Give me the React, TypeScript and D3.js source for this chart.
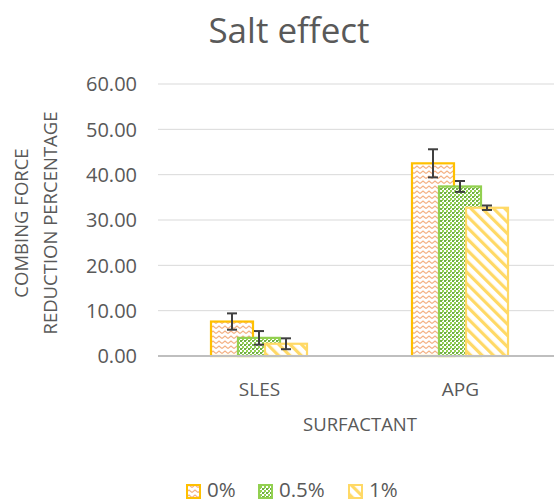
import React, { useEffect, useRef } from 'react';
import * as d3 from 'd3';

const categories = ['SLES', 'APG'];
const seriesNames = ['0%', '0.5%', '1%'];
const values0 = [7.6, 42.5];
const values05 = [4.0, 37.4];
const values1 = [2.7, 32.7];
const err0 = [1.8, 3.1];
const err05 = [1.5, 1.2];
const err1 = [1.2, 0.5];
const yTicks = [0, 10, 20, 30, 40, 50, 60];

const seriesValues = [values0, values05, values1];
const seriesErrors = [err0, err05, err1];
const strokes = ['#FFC000', '#92D050', '#FFD966'];
const patternIds = ['pat-zigzag', 'pat-dots', 'pat-diag'];

const FONT = '"Open Sans", sans-serif';
const TEXT = '#595959';

const App: React.FC = () => {
  const svgRef = useRef<SVGSVGElement>(null);

  useEffect(() => {
    if (!svgRef.current) return;
    const W = 554;
    const H = 502;

    const svg = d3.select(svgRef.current)
      .attr('width', W)
      .attr('height', H)
      .html('');

    // fill patterns (Excel-like)
    const defs = svg.append('defs');
    const zz = defs.append('pattern')
      .attr('id', 'pat-zigzag')
      .attr('patternUnits', 'userSpaceOnUse')
      .attr('width', 6).attr('height', 5);
    zz.append('rect').attr('width', 6).attr('height', 5).attr('fill', '#fff');
    zz.append('path')
      .attr('d', 'M0,3.5 L3,1 L6,3.5')
      .attr('fill', 'none')
      .attr('stroke', '#F4B183')
      .attr('stroke-width', 1.1);

    const dots = defs.append('pattern')
      .attr('id', 'pat-dots')
      .attr('patternUnits', 'userSpaceOnUse')
      .attr('width', 4).attr('height', 4);
    dots.append('rect').attr('width', 4).attr('height', 4).attr('fill', '#fff');
    dots.append('rect').attr('x', 0).attr('y', 0).attr('width', 2).attr('height', 2).attr('fill', '#70AD47');
    dots.append('rect').attr('x', 2).attr('y', 2).attr('width', 2).attr('height', 2).attr('fill', '#92D050');
    dots.append('rect').attr('x', 2).attr('y', 0).attr('width', 1).attr('height', 1).attr('fill', '#92D050');

    const diag = defs.append('pattern')
      .attr('id', 'pat-diag')
      .attr('patternUnits', 'userSpaceOnUse')
      .attr('width', 8).attr('height', 8)
      .attr('patternTransform', 'rotate(-45)');
    diag.append('rect').attr('width', 8).attr('height', 8).attr('fill', '#fff');
    diag.append('rect').attr('x', 0).attr('width', 3.2).attr('height', 8).attr('fill', '#FFD966');

    const x = d3.scaleBand<string>()
      .domain(categories)
      .range([158, 560])
      .padding(0);

    const barW = 42;
    // overlapping series bars inside each category band
    const xs = d3.scalePoint<string>()
      .domain(seriesNames)
      .range([53, 107]);

    const y = d3.scaleLinear()
      .domain([0, 60])
      .range([356, 84]);

    // title
    svg.append('text')
      .attr('x', 289)
      .attr('y', 43)
      .attr('text-anchor', 'middle')
      .style('font-family', FONT)
      .style('font-size', '35px')
      .style('fill', TEXT)
      .text('Salt effect');

    // gridlines
    svg.append('g')
      .selectAll('line')
      .data(yTicks.filter(t => t > 0))
      .join('line')
      .attr('x1', 158).attr('x2', 560)
      .attr('y1', d => y(d)).attr('y2', d => y(d))
      .attr('stroke', '#D9D9D9')
      .attr('stroke-width', 1);

    // y tick labels
    svg.append('g')
      .selectAll('text')
      .data(yTicks)
      .join('text')
      .attr('x', 137)
      .attr('y', d => y(d))
      .attr('dy', '0.36em')
      .attr('text-anchor', 'end')
      .style('font-family', FONT)
      .style('font-size', '20px')
      .style('fill', TEXT)
      .text(d => d.toFixed(2));

    // y axis title
    const yt = svg.append('text')
      .attr('transform', 'translate(0,223) rotate(-90)')
      .attr('text-anchor', 'middle')
      .style('font-family', FONT)
      .style('font-size', '18.5px')
      .style('fill', TEXT);
    yt.append('tspan').attr('x', 0).attr('y', 28).text('COMBING FORCE');
    yt.append('tspan').attr('x', 0).attr('y', 57).text('REDUCTION PERCENTAGE');

    // bars
    seriesNames.forEach((s, si) => {
      svg.append('g')
        .selectAll('rect')
        .data(categories)
        .join('rect')
        .attr('x', c => x(c)! + xs(s)!)
        .attr('y', (c, i) => y(seriesValues[si][i]))
        .attr('width', barW)
        .attr('height', (c, i) => y(0) - y(seriesValues[si][i]))
        .attr('fill', `url(#${patternIds[si]})`)
        .attr('stroke', strokes[si])
        .attr('stroke-width', 2.2);
    });

    // axis line
    svg.append('line')
      .attr('x1', 158).attr('x2', 560)
      .attr('y1', y(0)).attr('y2', y(0))
      .attr('stroke', '#BFBFBF')
      .attr('stroke-width', 2);

    // error bars
    seriesNames.forEach((s, si) => {
      const g = svg.append('g').attr('stroke', '#404040').attr('stroke-width', 2);
      categories.forEach((c, i) => {
        const cx = x(c)! + xs(s)! + barW / 2;
        const v = seriesValues[si][i];
        const e = seriesErrors[si][i];
        g.append('line').attr('x1', cx).attr('x2', cx).attr('y1', y(v + e)).attr('y2', y(v - e));
        g.append('line').attr('x1', cx - 5).attr('x2', cx + 5).attr('y1', y(v + e)).attr('y2', y(v + e));
        g.append('line').attr('x1', cx - 5).attr('x2', cx + 5).attr('y1', y(v - e)).attr('y2', y(v - e));
      });
    });

    // category labels
    svg.append('g')
      .selectAll('text')
      .data(categories)
      .join('text')
      .attr('x', c => x(c)! + x.bandwidth() / 2 + 1)
      .attr('y', 396)
      .attr('text-anchor', 'middle')
      .style('font-family', FONT)
      .style('font-size', '19px')
      .style('fill', TEXT)
      .text(c => c);

    svg.append('text')
      .attr('x', 360)
      .attr('y', 431)
      .attr('text-anchor', 'middle')
      .style('font-family', FONT)
      .style('font-size', '18.5px')
      .style('fill', TEXT)
      .text('SURFACTANT');

    // legend
    const legendX = [186, 258, 348];
    seriesNames.forEach((s, si) => {
      const lg = svg.append('g').attr('transform', `translate(${legendX[si]},484)`);
      lg.append('rect')
        .attr('x', 1).attr('y', 1)
        .attr('width', 13).attr('height', 13)
        .attr('fill', `url(#${patternIds[si]})`)
        .attr('stroke', strokes[si])
        .attr('stroke-width', 2);
      lg.append('text')
        .attr('x', 21)
        .attr('y', 13)
        .style('font-family', FONT)
        .style('font-size', '20.5px')
        .style('fill', TEXT)
        .text(s);
    });
  }, []);

  return (
    <svg ref={svgRef} style={{ position: 'absolute', left: 0, top: 0, display: 'block' }} />
  );
};

export default App;
